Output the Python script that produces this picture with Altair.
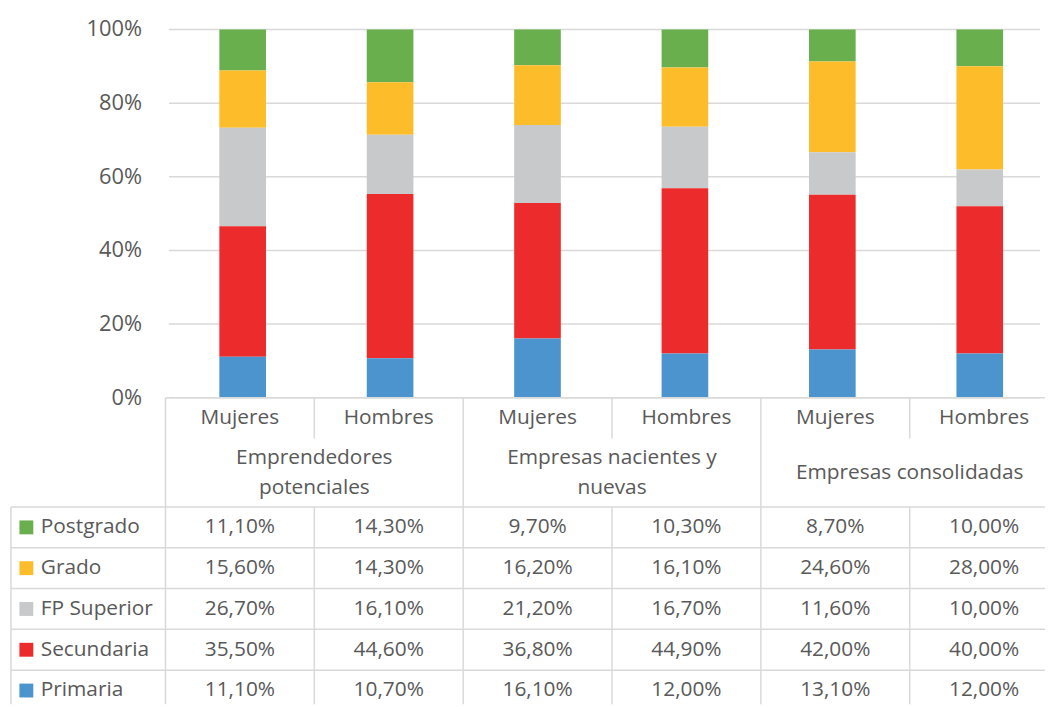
import altair as alt
import pandas as pd

# ---------------- data ----------------
groups = ["Emprendedores\npotenciales", "Empresas nacientes y\nnuevas", "Empresas consolidadas"]
genders = ["Mujeres", "Hombres"]
levels = ["Postgrado", "Grado", "FP Superior", "Secundaria", "Primaria"]
level_colors = ["#6AAF4E", "#FDBD2A", "#C8C9CA", "#EC2C2C", "#4B94CE"]

postgrado = [11.1, 14.3, 9.7, 10.3, 8.7, 10.0]
grado = [15.6, 14.3, 16.2, 16.1, 24.6, 28.0]
fp_superior = [26.7, 16.1, 21.2, 16.7, 11.6, 10.0]
secundaria = [35.5, 44.6, 36.8, 44.9, 42.0, 40.0]
primaria = [11.1, 10.7, 16.1, 12.0, 13.1, 12.0]
series = [postgrado, grado, fp_superior, secundaria, primaria]

tick_values = [0, 20, 40, 60, 80, 100]
tick_labels = ["0%", "20%", "40%", "60%", "80%", "100%"]

# ---------------- layout ----------------
FONT = "Open Sans"
TXT = "#595959"
LINE = "#D9D9D9"
W = 1042
TOP_H = 390
BOT_H = 309
X_MIN = -1.038
X_MAX = 5.909
Y_TOP_MAX = 100 * TOP_H / 371.0
ROW_PX = 41.1
Y_BOT_MAX = BOT_H / ROW_PX
HDR = 2.68  # header block height in row units
LINE_H = 30

cols = []
for gi, g in enumerate(groups):
    for si, s in enumerate(genders):
        cols.append((gi, g, s))

bar_rows = []
for ci, (gi, g, s) in enumerate(cols):
    for li, lev in enumerate(levels):
        bar_rows.append({"xc": ci + 0.5, "level": lev, "rank": len(levels) - li,
                         "value": series[li][ci]})
bars_df = pd.DataFrame(bar_rows)

xs_top = alt.Scale(domain=[X_MIN, X_MAX], nice=False, zero=False)
ys_top = alt.Scale(domain=[0, Y_TOP_MAX], nice=False, zero=False)

grid_df = pd.DataFrame({"t": tick_values, "x0": 0.0, "x1": X_MAX, "lab": tick_labels})

grid = alt.Chart(grid_df).mark_rule(color=LINE, strokeWidth=1.5).encode(
    x=alt.X("x0:Q", scale=xs_top, axis=None),
    x2="x1:Q",
    y=alt.Y("t:Q", scale=ys_top, axis=None),
)
ylabels = alt.Chart(grid_df).mark_text(align="right", baseline="middle", font=FONT,
                                       fontSize=22, color=TXT).encode(
    x=alt.value(132),
    y=alt.Y("t:Q", scale=ys_top, axis=None),
    text="lab:N",
)
bars = alt.Chart(bars_df).mark_bar(size=47).encode(
    x=alt.X("xc:Q", scale=xs_top, axis=None),
    y=alt.Y("value:Q", stack="zero", scale=ys_top, axis=None),
    color=alt.Color("level:N", scale=alt.Scale(domain=levels, range=level_colors), legend=None),
    order=alt.Order("rank:Q"),
)
top = alt.layer(grid, bars, ylabels).properties(width=W, height=TOP_H)

# ---------------- table ----------------
xs_b = alt.Scale(domain=[X_MIN, X_MAX], nice=False, zero=False)
ys_b = alt.Scale(domain=[0, Y_BOT_MAX], nice=False, zero=False, reverse=True)

segs = [(0, X_MAX, 0, 0)]
for k in range(len(levels)):
    yy = HDR + k
    segs.append((X_MIN, X_MAX, yy, yy))
segs.append((X_MIN, X_MIN, HDR, Y_BOT_MAX))
for xx in [0, 2, 4]:
    segs.append((xx, xx, 0, Y_BOT_MAX))
for xx in [1, 3, 5]:
    segs.append((xx, xx, 0, 1))
    segs.append((xx, xx, HDR, Y_BOT_MAX))
seg_df = pd.DataFrame(segs, columns=["x0", "x1", "y0", "y1"])

borders = alt.Chart(seg_df).mark_rule(color=LINE, strokeWidth=1.5).encode(
    x=alt.X("x0:Q", scale=xs_b, axis=None), x2="x1:Q",
    y=alt.Y("y0:Q", scale=ys_b, axis=None), y2="y1:Q",
)

gender_df = pd.DataFrame([{"x": ci + 0.5, "y": 0.5, "t": s} for ci, (gi, g, s) in enumerate(cols)])
gender_txt = alt.Chart(gender_df).mark_text(font=FONT, fontSize=21, color=TXT,
                                            baseline="middle").encode(
    x=alt.X("x:Q", scale=xs_b, axis=None),
    y=alt.Y("y:Q", scale=ys_b, axis=None),
    text="t:N",
)

group_rows = []
for gi, g in enumerate(groups):
    n = g.count("\n") + 1
    group_rows.append({"x": gi * 2 + 1.0,
                       "y": 1.84 - (n - 1) * LINE_H / 2.0 / ROW_PX,
                       "t": g})
group_df = pd.DataFrame(group_rows)
group_txt = alt.Chart(group_df).mark_text(font=FONT, fontSize=21, color=TXT, baseline="middle",
                                          lineBreak="\n", lineHeight=LINE_H).encode(
    x=alt.X("x:Q", scale=xs_b, axis=None),
    y=alt.Y("y:Q", scale=ys_b, axis=None),
    text="t:N",
)

val_rows = []
for li, lev in enumerate(levels):
    for ci in range(len(cols)):
        v = series[li][ci]
        val_rows.append({"x": ci + 0.5, "y": HDR + li + 0.5,
                         "t": f"{v:.2f}".replace(".", ",") + "%"})
val_df = pd.DataFrame(val_rows)
val_txt = alt.Chart(val_df).mark_text(font=FONT, fontSize=21, color=TXT,
                                      baseline="middle").encode(
    x=alt.X("x:Q", scale=xs_b, axis=None),
    y=alt.Y("y:Q", scale=ys_b, axis=None),
    text="t:N",
)

lab_df = pd.DataFrame([{"y": HDR + li + 0.5, "level": lev} for li, lev in enumerate(levels)])
squares = alt.Chart(lab_df).mark_point(shape="square", filled=True, size=196, opacity=1).encode(
    x=alt.value(15.5),
    y=alt.Y("y:Q", scale=ys_b, axis=None),
    color=alt.Color("level:N", scale=alt.Scale(domain=levels, range=level_colors), legend=None),
)
lab_txt = alt.Chart(lab_df).mark_text(font=FONT, fontSize=21, color=TXT, align="left",
                                      baseline="middle").encode(
    x=alt.value(30),
    y=alt.Y("y:Q", scale=ys_b, axis=None),
    text="level:N",
)

table = alt.layer(borders, gender_txt, group_txt, val_txt, squares, lab_txt).properties(
    width=W, height=BOT_H)

chart = alt.vconcat(top, table, spacing=0, bounds="flush").properties(
    padding={"left": 2, "top": 0, "right": 0, "bottom": 0},
    background="white",
).configure_view(stroke=None)

chart.save("out.html", embed_options={"renderer": "svg", "actions": False})
